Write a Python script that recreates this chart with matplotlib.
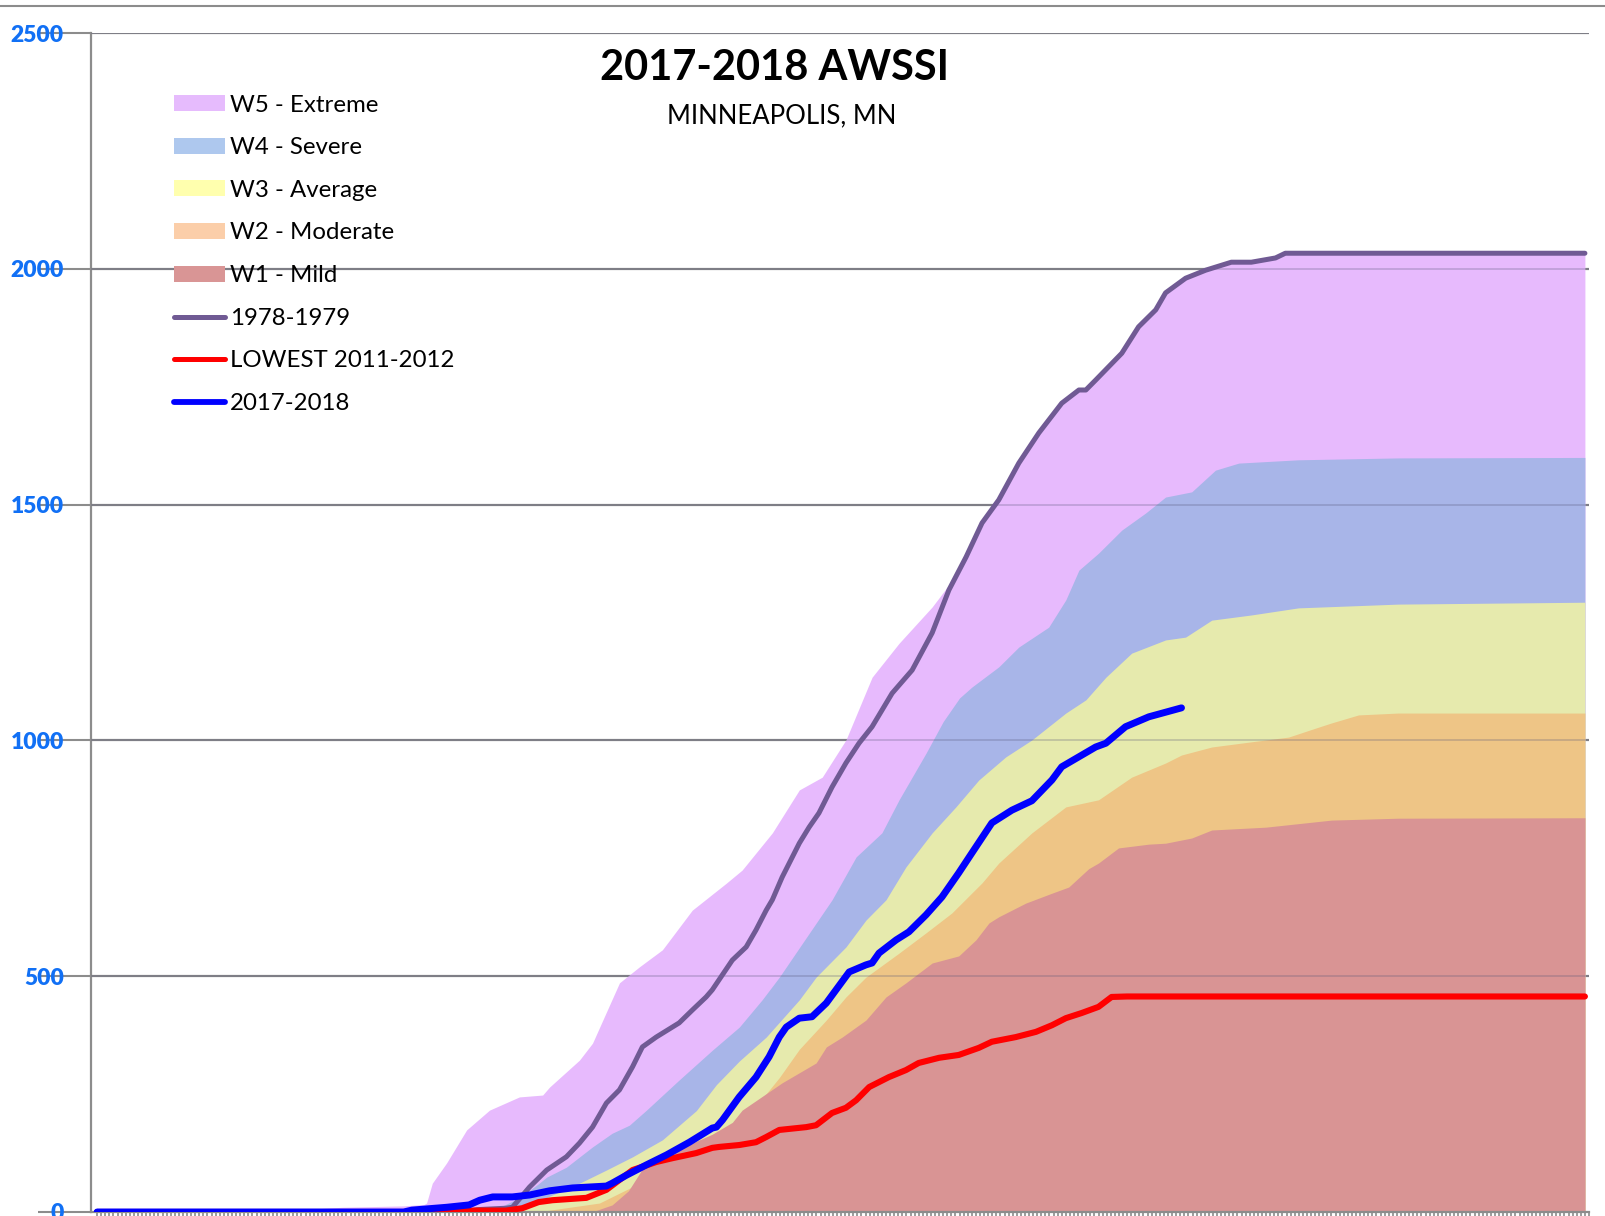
import matplotlib
matplotlib.use("Agg")
import matplotlib.pyplot as plt
from matplotlib.patches import Patch
from matplotlib.lines import Line2D
import numpy as np

plt.rcParams['font.family'] = ['Lato', 'DejaVu Sans']

# season day (0 = start of season) and accumulated AWSSI points
w5_day = [0, 40, 50, 60, 75, 80, 80.6, 82, 85.5, 90.4, 96, 103.3, 109, 110.7, 118, 121.2,
          127.8, 132.7, 138.3, 145.6, 153.9, 157.8, 165.2, 171.8, 177.4, 183.2, 189.6,
          196.2, 204.3, 208.4, 212.6, 216.5, 220.6, 225.5, 230.4, 236, 240.2, 241.9,
          244.3, 250.7, 254.8, 259, 261.4, 266.3, 271.2, 277.5, 282.4, 288.3, 290.7, 364]
w5_val = [0, 0, 5, 10, 13, 16, 19, 61, 104, 174, 216, 244, 248, 265, 322, 358,
          486, 520, 556, 640, 697, 725, 804, 895, 922, 1001, 1134,
          1206, 1283, 1330, 1395, 1465, 1512, 1588, 1652, 1715, 1743, 1743,
          1764, 1821, 1877, 1913, 1949, 1980, 1997, 2014, 2014, 2023, 2033, 2033]

w4_day = [0, 90, 98, 103.3, 108, 110, 114.8, 121.2, 126, 130.2, 134.4, 142.4, 150.5, 157.1,
          162.7, 166.9, 179.8, 185.7, 192, 196.2, 202.8, 207, 211, 214, 220.6, 225.5, 232.8,
          237, 240.2, 245, 250.7, 256.5, 261.4, 267.8, 270.2, 273.6, 279.3, 293.9, 318.3, 364]
w4_val = [0, 0, 8, 30, 60, 74, 95, 138, 167, 184, 216, 280, 343, 392,
          450, 498, 662, 753, 804, 874, 973, 1040, 1090, 1113, 1156, 1198, 1240,
          1298, 1361, 1397, 1446, 1482, 1516, 1527, 1546, 1573, 1588, 1595, 1599, 1600]

w3_day = [0, 98, 103, 105.8, 112.4, 118, 124.6, 131, 138.3, 146.6, 151.5, 157.1, 163.7,
          171.8, 175.9, 183.2, 188.1, 193, 197.9, 204.3, 210.1, 215.7, 222.3, 228.7,
          237, 241.9, 246.8, 253.1, 261.4, 266.3, 272.7, 282.4, 293.9, 318.3, 364]
w3_val = [0, 0, 8, 15, 40, 61, 89, 117, 153, 215, 270, 320, 371,
          450, 498, 562, 619, 662, 732, 804, 859, 916, 965, 1001,
          1058, 1086, 1134, 1185, 1213, 1219, 1255, 1266, 1281, 1289, 1293]

w2_day = [0, 100, 110, 122.9, 127.8, 134.4, 142.4, 150.5, 157.1, 162.7, 166.9, 171.8,
          178.4, 183.2, 188.1, 196.2, 202.8, 209.1, 216.5, 220.6, 228.7, 237, 245, 253.1,
          261.4, 265.3, 272.7, 282.4, 291.5, 298.1, 302, 308.6, 318.3, 364]
w2_val = [0, 0, 3, 19, 40, 68, 100, 150, 200, 240, 285, 345,
          407, 456, 498, 549, 592, 634, 698, 740, 804, 859, 874, 922,
          952, 969, 986, 997, 1007, 1026, 1037, 1054, 1058, 1058]

w1_day = [0, 118, 122, 126, 130, 134.4, 140, 146.6, 150.5, 155.4, 157.8, 167.6, 175.9,
          178.4, 182.3, 188.1, 193, 197.9, 204.3, 210.8, 215, 218.2, 220.6, 227.2, 233.6,
          237.7, 242.6, 245, 249.9, 257.3, 261.4, 267.8, 272.7, 285.9, 302, 318.3, 364]
w1_val = [0, 0, 3, 15, 45, 105, 125, 150, 165, 190, 216, 274, 316,
          350, 371, 407, 456, 486, 528, 543, 577, 613, 626, 655, 676,
          689, 728, 740, 772, 780, 782, 793, 810, 816, 831, 835, 836]

s7879_day = [0, 90, 93, 100, 101.6, 105.8, 110, 114.8, 118, 121.2, 124.6, 127.8, 131, 133.4,
             136.8, 142.4, 145.6, 149, 150.5, 155.4, 158.8, 161.2, 163.7, 165.2, 167.6,
             171.8, 174.2, 176.6, 179.8, 183.2, 186.4, 189.6, 194.5, 199.4, 204.3, 208.4,
             212.6, 216.5, 220.6, 225.5, 230.4, 236, 240.2, 241.9, 244.3, 250.7, 254.8,
             259, 261.4, 266.3, 271.2, 277.5, 282.4, 288.3, 290.7, 364]
s7879_val = [0, 0, 5, 8, 10, 53, 89, 117, 146, 180, 231, 259, 308, 350,
             371, 401, 428, 456, 471, 534, 562, 598, 640, 662, 710,
             782, 816, 846, 901, 952, 994, 1029, 1100, 1149, 1228, 1319,
             1389, 1461, 1510, 1588, 1652, 1715, 1743, 1743, 1764, 1821, 1877,
             1913, 1949, 1980, 1997, 2014, 2014, 2023, 2033, 2033]

low_day = [0, 78, 85, 100, 104, 108, 111.4, 119.7, 124.6, 127.8, 131, 136.8, 140.7, 146.6,
           150.5, 152.2, 157.1, 161.2, 163.7, 166.9, 173.5, 175.9, 179.8, 183.2, 185.7,
           188.9, 193.7, 197.9, 201, 206, 210.8, 215.7, 218.9, 224.8, 229.7, 233.6, 237,
           240.9, 245, 248.2, 252, 364]
low_val = [0, 0, 3, 3, 8, 21, 25, 30, 47, 68, 89, 106, 114, 125,
           136, 138, 142, 148, 159, 174, 180, 184, 210, 221, 237,
           265, 286, 301, 316, 327, 333, 348, 361, 371, 382, 396, 411,
           422, 435, 456, 457, 457]

s1718_day = [0, 75, 77, 85.5, 91, 93.6, 96.8, 101.6, 105.8, 110.7, 116.3, 124.6, 126, 129.5,
             134.4, 139.3, 144.9, 150.5, 151.5, 153, 157.1, 161.2, 164.4, 166.9, 168.6,
             171.8, 174.9, 178.4, 184, 188.1, 189.6, 191.3, 195.5, 198.6, 202.8, 206.7,
             210.8, 214, 218.9, 223.8, 228.7, 233.6, 236, 244.3, 246.8, 251.6, 257.3, 265.3]
s1718_val = [0, 0, 4, 10, 15, 25, 32, 32, 36, 45, 51, 55, 61, 78,
             100, 121, 148, 178, 180, 195, 244, 286, 329, 371, 392,
             411, 414, 443, 509, 524, 528, 549, 577, 594, 630, 668,
             719, 761, 825, 852, 872, 916, 944, 986, 994, 1029, 1050, 1069]

y_ticks = [0, 500, 1000, 1500, 2000, 2500]

band_labels = ['W5 - Extreme', 'W4 - Severe', 'W3 - Average', 'W2 - Moderate', 'W1 - Mild']
band_fill = ['#E7BAFD', '#A8B5E8', '#E6EAAD', '#EEC586', '#D99494']
band_swatch = ['#E6BBFD', '#AEC8EE', '#FFFFAE', '#FBCEA9', '#D99595']
line_labels = ['1978-1979', 'LOWEST 2011-2012', '2017-2018']
line_colors = ['#705A94', '#FF0000', '#0000FF']

fig = plt.figure(figsize=(16.06, 12.16), dpi=100)
ax = fig.add_axes([91 / 1606, 4 / 1216, 1498 / 1606, 1179 / 1216])

bands = [(w5_day, w5_val), (w4_day, w4_val), (w3_day, w3_val), (w2_day, w2_val), (w1_day, w1_val)]
for (d, v), c in zip(bands, band_fill):
    ax.fill_between(d, 0, v, color=c, lw=0, zorder=2)

# gridlines: solid below the areas, faint on top so they show through
for yv in y_ticks[1:]:
    ax.axhline(yv, color='#8C8C8C', lw=1.6, zorder=1)
    ax.axhline(yv, color='#555577', lw=1.4, alpha=0.25, zorder=3)

ax.plot(s7879_day, s7879_val, color=line_colors[0], lw=3.6, zorder=4, solid_capstyle='round')
ax.plot(low_day, low_val, color=line_colors[1], lw=4.4, zorder=5, solid_capstyle='round')
ax.plot(s1718_day, s1718_val, color=line_colors[2], lw=5.0, zorder=6, solid_capstyle='round')

ax.set_xlim(-1.5, 364.5)
ax.set_ylim(0, 2500)
ax.set_yticks(y_ticks, labels=[str(t) for t in y_ticks], fontweight='heavy',
              fontsize=16.5, color='#1170F5')
ax.tick_params(axis='y', length=38, width=1.5, color='#8C8C8C', pad=-18.5)
ax.set_xticks(np.arange(0, 366, 1))
ax.tick_params(axis='x', length=4, width=1.2, color='#8C8C8C', labelbottom=False)

for s in ['top', 'right']:
    ax.spines[s].set_visible(False)
for s in ['left', 'bottom']:
    ax.spines[s].set_color('#8C8C8C')
    ax.spines[s].set_linewidth(1.6)
ax.patch.set_alpha(0)

fig.add_artist(Line2D([0, 1], [1 - 6 / 1216, 1 - 6 / 1216], color='#8C8C8C', lw=1.5))

fig.text(775 / 1606, 1 - 68 / 1216, '2017-2018 AWSSI', ha='center', va='center',
         fontsize=30, fontweight='bold', color='black')
fig.text(782 / 1606, 1 - 116 / 1216, 'MINNEAPOLIS, MN', ha='center', va='center',
         fontsize=18.5, color='black')

handles = [Patch(facecolor=c, edgecolor='none') for c in band_swatch]
handles += [Line2D([0], [1], color=c, lw=w, solid_capstyle='round')
            for c, w in zip(line_colors, [3.6, 3.6, 4.2])]
leg = ax.legend(handles, band_labels + line_labels, loc='upper left',
                bbox_to_anchor=(73 / 1498, 1 - 52 / 1179), frameon=False,
                fontsize=17.3, handlelength=2.15, handleheight=0.65,
                handletextpad=0.2, labelspacing=0.9, borderaxespad=0)
leg.set_zorder(10)

fig.savefig('out.png', dpi=100)
